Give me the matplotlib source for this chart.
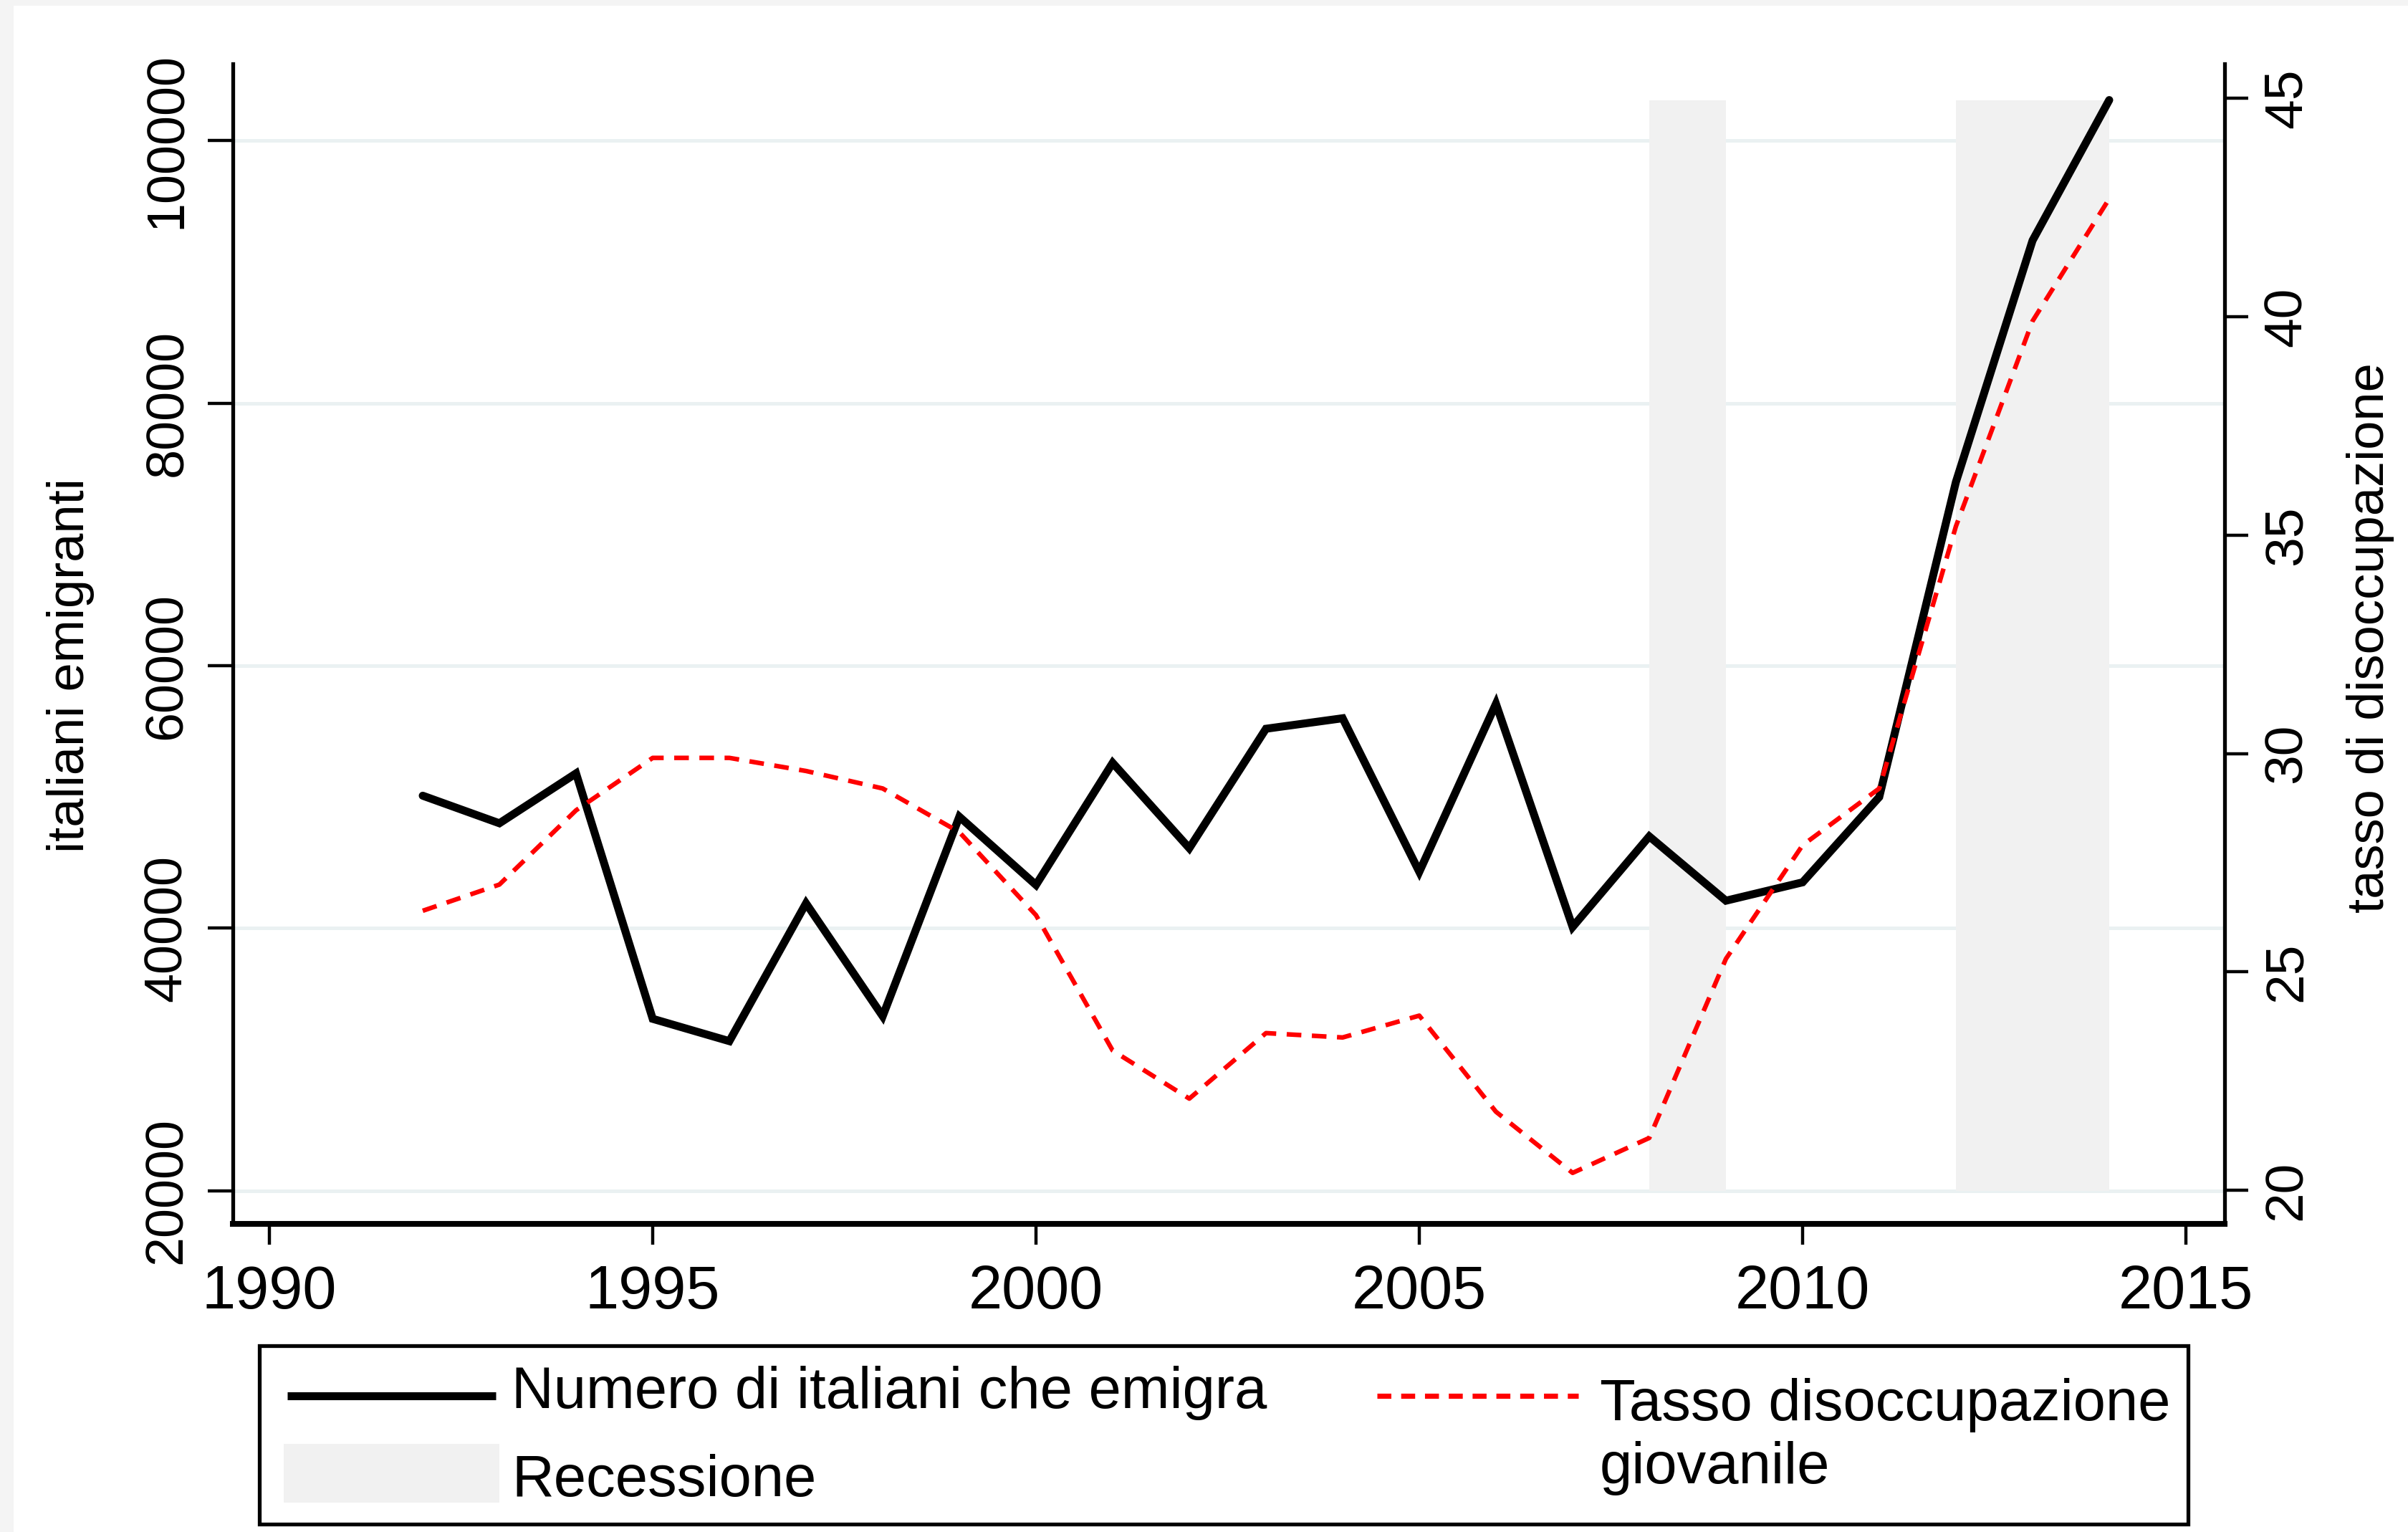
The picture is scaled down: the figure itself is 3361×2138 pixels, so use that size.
import matplotlib
matplotlib.use("Agg")
import matplotlib.pyplot as plt
from matplotlib.lines import Line2D
from matplotlib.patches import Rectangle

# ---- data ----
years = list(range(1992, 2015))
emigranti = [50100, 48000, 51800, 33100, 31400, 41900, 33300, 48500, 43300,
             52600, 46100, 55200, 56000, 44300, 57100, 40100, 47000, 42100,
             43500, 50000, 74000, 92400, 103100]
disoccupazione = [26.4, 27.0, 28.7, 29.9, 29.9, 29.6, 29.2, 28.2, 26.3, 23.2,
                  22.1, 23.6, 23.5, 24.0, 21.8, 20.4, 21.2, 25.3, 27.9, 29.2,
                  35.2, 39.9, 42.7]
rec_start = [2008, 2012]
rec_end = [2009, 2014]
x_ticks = [1990, 1995, 2000, 2005, 2010, 2015]
left_ticks = [20000, 40000, 60000, 80000, 100000]
right_ticks = [20, 25, 30, 35, 40, 45]

label_emig = "Numero di italiani che emigra"
label_rec = "Recessione"
label_dis_1 = "Tasso disoccupazione"
label_dis_2 = "giovanile"

plt.rcParams["font.family"] = ["Liberation Sans", "DejaVu Sans"]

W, H, DPI = 3361, 2138, 200
fig = plt.figure(figsize=(W / DPI, H / DPI), dpi=DPI)
fig.patch.set_facecolor("#f4f4f4")
fig.add_artist(Rectangle((19 / W, 0), 1 - 19 / W, 1 - 8 / H, transform=fig.transFigure,
                         facecolor="white", edgecolor="none", zorder=-10))

def fx(px):
    return px / W

def fy(py):
    return 1 - py / H

ax1 = fig.add_axes([fx(325), fy(1707.5), (3105 - 325) / W, (1707.5 - 89) / H])
ax1.set_facecolor("white")
ax1.set_xlim(1989.523, 2015.505)
ax1.set_ylim(17505, 105863)

# grid
ax1.set_axisbelow(True)
ax1.set_yticks(left_ticks)
ax1.yaxis.grid(True, color="#eaf1f2", lw=1.8, zorder=0)
ax1.xaxis.grid(False)

# recession bands
band_top = max(emigranti)
for s, e in zip(rec_start, rec_end):
    ax1.fill_between([s, e], left_ticks[0], band_top, color="#f1f1f1", lw=0, zorder=1)

ax1.plot(years, emigranti, color="black", lw=4.0, solid_joinstyle="miter",
         solid_capstyle="round", zorder=3)

ax2 = ax1.twinx()
ax2.set_ylim(19.241, 45.789)
ax2.plot(years, disoccupazione, color="#ff0000", lw=2.3, ls=(0, (3.2, 2.3)), zorder=3)

# spines
for a in (ax1, ax2):
    a.spines["top"].set_visible(False)
ax1.spines["right"].set_visible(False)
ax2.spines["left"].set_visible(False)
ax2.spines["bottom"].set_visible(False)
ax1.spines["left"].set_linewidth(1.9)
ax2.spines["right"].set_linewidth(1.9)
ax1.spines["bottom"].set_linewidth(2.9)

# ticks
ax1.set_xticks(x_ticks)
ax1.set_xticklabels([str(t) for t in x_ticks])
ax1.tick_params(axis="x", direction="out", length=10.5, width=1.6, pad=10, labelsize=30.5)
ax1.set_yticklabels([str(t) for t in left_ticks])
ax1.tick_params(axis="y", direction="out", length=12.5, width=1.6, pad=8, labelsize=26.5,
                labelrotation=90)
for lab in ax1.get_yticklabels():
    lab.set_va("center")
ax2.set_yticks(right_ticks)
ax2.set_yticklabels([str(t) for t in right_ticks])
ax2.tick_params(axis="y", direction="out", length=12, width=1.6, pad=7, labelsize=27,
                labelrotation=90)
for lab in ax2.get_yticklabels():
    lab.set_va("center")

# axis titles
ax1.set_ylabel("italiani emigranti", fontsize=26, rotation=90, ha="center", va="center")
ax1.yaxis.set_label_coords((98 - 325) / (3105 - 325), (1707.5 - 929) / (1707.5 - 89))
ax2.set_ylabel("tasso di disoccupazione", fontsize=26, rotation=90, ha="center", va="center")
ax2.yaxis.set_label_coords((3308 - 325) / (3105 - 325), (1707.5 - 890) / (1707.5 - 89))

# legend (drawn in figure coordinates)
fig.add_artist(Rectangle((fx(362), fy(2127)), (3054 - 362) / W, (2127 - 1878) / H,
                         transform=fig.transFigure, facecolor="white",
                         edgecolor="black", lw=1.9, zorder=5))
fig.add_artist(Line2D([fx(401), fx(692)], [fy(1948), fy(1948)], transform=fig.transFigure,
                      color="black", lw=4.0, solid_capstyle="butt", zorder=6))
fig.add_artist(Rectangle((fx(396), fy(2097)), (697 - 396) / W, (2097 - 2015) / H,
                         transform=fig.transFigure, facecolor="#f1f1f1",
                         edgecolor="none", zorder=6))
fig.add_artist(Line2D([fx(1922), fx(2203)], [fy(1948), fy(1948)], transform=fig.transFigure,
                      color="#ff0000", lw=2.6, ls=(0, (2.7, 1.9)), zorder=6))
fig.text(fx(714), fy(1965), label_emig, fontsize=29.3, va="baseline", ha="left", zorder=7)
fig.text(fx(714), fy(2088), label_rec, fontsize=29.3, va="baseline", ha="left", zorder=7)
fig.text(fx(2233), fy(1982), label_dis_1, fontsize=29.3, va="baseline", ha="left", zorder=7)
fig.text(fx(2233), fy(2070), label_dis_2, fontsize=29.3, va="baseline", ha="left", zorder=7)

fig.savefig("out.png", dpi=DPI, facecolor=fig.get_facecolor())
